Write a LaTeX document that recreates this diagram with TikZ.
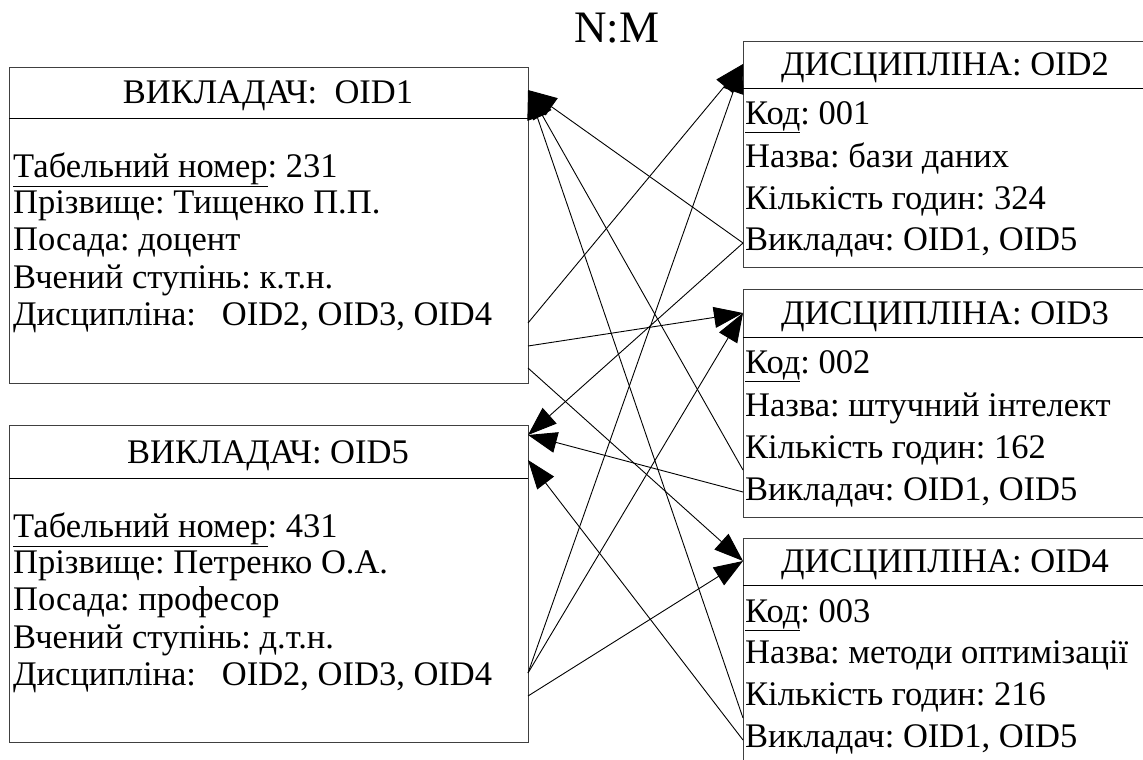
\documentclass[tikz,border=0pt]{standalone}
\usepackage{fontspec}
\setmainfont{Liberation Serif}
\usetikzlibrary{arrows.meta}
\begin{document}
\frenchspacing
\begin{tikzpicture}[x=1pt,y=-1pt,
  box/.style={draw=black!75,line width=1.2pt,inner sep=0,anchor=north west},
  sep/.style={draw=black,line width=1pt},
  txt/.style={anchor=base west,inner sep=0,font=\fontsize{34.5}{40}\selectfont},
  hdr/.style={anchor=base,inner sep=0,font=\fontsize{34.5}{40}\selectfont},
  link/.style={line width=0.9pt,-{Triangle[length=29pt,width=21pt]}}]
\useasboundingbox (0,0) rectangle (1143,760);
\clip (0,0) rectangle (1143,760);

\node[anchor=base,inner sep=0,font=\fontsize{45}{50}\selectfont] (nm) at (617,43) {N:M};

% boxes
\node[box,minimum width=519,minimum height=316] (v1) at (9,67) {};
\node[box,minimum width=519,minimum height=317] (v5) at (9,425) {};
\node[box,minimum width=410,minimum height=226] (d2) at (743,41) {};
\node[box,minimum width=410,minimum height=228] (d3) at (743,289) {};
\node[box,minimum width=410,minimum height=300] (d4) at (743,538) {};

\draw[sep] (9,118) -- (528,118);
\draw[sep] (9,478) -- (528,478);
\draw[sep] (743,88) -- (1153,88);
\draw[sep] (743,337) -- (1153,337);
\draw[sep] (743,585) -- (1153,585);

% headers
\node[hdr] (h1) at (268,103) {ВИКЛАДАЧ:\ \ OID1};
\node[hdr] (h5) at (268,463) {ВИКЛАДАЧ: OID5};
\node[hdr] (h2) at (945,76) {ДИСЦИПЛІНА: OID2};
\node[hdr] (h3) at (945,324) {ДИСЦИПЛІНА: OID3};
\node[hdr] (h4) at (945,572) {ДИСЦИПЛІНА: OID4};

% teacher 1
\node[txt] (a1) at (13,177) {\underline{Табельний номер}: 231};
\node[txt] (a2) at (13,213) {Прізвище: Тищенко П.П.};
\node[txt] (a3) at (13,250) {Посада: доцент};
\node[txt] (a4) at (13,288) {Вчений ступінь: к.т.н.};
\node[txt] (a5) at (13,325) {Дисципліна:\ \ \ OID2, OID3, OID4};
% teacher 5
\node[txt] (b1) at (13,537) {\underline{Табельний номер}: 431};
\node[txt] (b2) at (13,573) {Прізвище: Петренко О.А.};
\node[txt] (b3) at (13,610) {Посада: професор};
\node[txt] (b4) at (13,648) {Вчений ступінь: д.т.н.};
\node[txt] (b5) at (13,685) {Дисципліна:\ \ \ OID2, OID3, OID4};
% discipline 2
\node[txt] (c1) at (745,124) {\underline{Код}: 001};
\node[txt] (c2) at (745,167) {Назва: бази даних};
\node[txt] (c3) at (745,209) {Кількість годин: 324};
\node[txt] (c4) at (745,250) {Викладач: OID1, OID5};
% discipline 3
\node[txt] (e1) at (745,373) {\underline{Код}: 002};
\node[txt] (e2) at (745,416) {Назва: штучний інтелект};
\node[txt] (e3) at (745,458) {Кількість годин: 162};
\node[txt] (e4) at (745,500) {Викладач: OID1, OID5};
% discipline 4
\node[txt] (f1) at (745,622) {\underline{Код}: 003};
\node[txt] (f2) at (745,663) {Назва: методи оптимізації};
\node[txt] (f3) at (745,705) {Кількість годин: 216};
\node[txt] (f4) at (745,747) {Викладач: OID1, OID5};

% connector ends
\coordinate (v1in) at (528,90);
\coordinate (v5inA) at (528,435);
\coordinate (v5inB) at (528,460);
\coordinate (v1o2) at (528,323);
\coordinate (v1o3) at (528,346);
\coordinate (v1o4) at (528,368);
\coordinate (v5o23) at (528,673);
\coordinate (v5o4) at (528,696);
\coordinate (d2in) at (743,64);
\coordinate (d3in) at (743,313);
\coordinate (d4in) at (743,561);
\coordinate (d2out) at (743,243);
\coordinate (d3outA) at (743,470);
\coordinate (d3outB) at (743,492);
\coordinate (d4outA) at (743,718);
\coordinate (d4outB) at (743,740);

\draw[link] (v1o2) -- (d2in);
\draw[link] (v1o3) -- (d3in);
\draw[link] (v1o4) -- (d4in);
\draw[link] (v5o23) -- (d2in);
\draw[link] (v5o23) -- (d3in);
\draw[link] (v5o4) -- (d4in);
\draw[link] (d2out) -- (v1in);
\draw[link] (d2out) -- (v5inA);
\draw[link] (d3outA) -- (v1in);
\draw[link] (d3outB) -- (v5inA);
\draw[link] (d4outA) -- (v1in);
\draw[link] (d4outB) -- (v5inB);
\end{tikzpicture}
\end{document}
